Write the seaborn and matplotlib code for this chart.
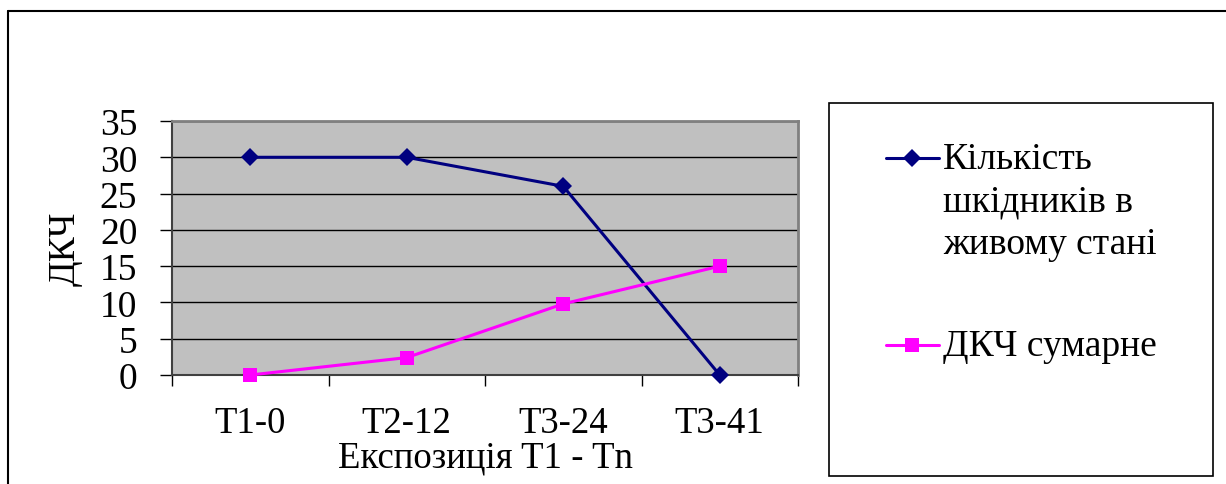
import matplotlib
matplotlib.use("Agg")
import matplotlib.pyplot as plt
import seaborn as sns
import pandas as pd
from matplotlib.patches import Rectangle
from matplotlib.lines import Line2D
from matplotlib.ticker import FixedLocator

categories = ["T1-0", "T2-12", "T3-24", "T3-41"]
alive_pests = [30, 30, 26, 0]
dkch_total = [0, 2.4, 9.8, 15]
series_names = ["Кількість\nшкідників в\nживому стані", "ДКЧ сумарне"]
y_ticks = [0, 5, 10, 15, 20, 25, 30, 35]
x_label = "Експозиція T1 - Tn"
y_label = "ДКЧ"

sns.set_theme(style="white")
plt.rcParams["font.family"] = ["Liberation Serif", "DejaVu Serif"]
plt.rcParams.update({"text.color": "black", "axes.labelcolor": "black",
                     "xtick.color": "black", "ytick.color": "black"})

W, H = 1226, 485
fig = plt.figure(figsize=(W / 100, H / 100), dpi=100)
ax = fig.add_axes([172 / W, 1 - 376 / H, (798 - 172) / W, (376 - 122) / H])
ax.set_facecolor("#C0C0C0")

df1 = pd.DataFrame({"x": categories, "y": alive_pests})
df2 = pd.DataFrame({"x": categories, "y": dkch_total})
sns.lineplot(data=df1, x="x", y="y", ax=ax, color="#000080", lw=2.2,
             marker="D", markersize=9, markeredgewidth=0, sort=False,
             label=series_names[0], legend=False, clip_on=False, zorder=5)
sns.lineplot(data=df2, x="x", y="y", ax=ax, color="#FF00FF", lw=2.2,
             marker="s", markersize=10, markeredgewidth=0, sort=False,
             label=series_names[1], legend=False, clip_on=False, zorder=5)

ax.set_xlim(-0.5, len(categories) - 0.5)
ax.set_ylim(0, 35)
ax.set_yticks(y_ticks)
ax.set_yticklabels([str(t) for t in y_ticks], fontsize=27)
ax.set_xticks(range(len(categories)))
ax.set_xticklabels(categories, fontsize=26.5)
ax.xaxis.set_minor_locator(FixedLocator([i - 0.5 for i in range(len(categories) + 1)]))
ax.tick_params(axis="x", which="major", length=0, pad=22)
ax.tick_params(axis="x", which="minor", length=8, width=1, color="black", direction="out", bottom=True)
ax.tick_params(axis="y", which="major", length=9, width=1, color="black", direction="out", left=True, pad=16)

ax.grid(axis="y", color="black", lw=1)
ax.grid(axis="x", visible=False)
ax.set_axisbelow(True)
for s in ["top", "right"]:
    ax.spines[s].set_color("#808080")
    ax.spines[s].set_linewidth(2)
for s in ["left", "bottom"]:
    ax.spines[s].set_color("#404040")
    ax.spines[s].set_linewidth(1.5)

ax.set_xlabel(x_label, fontsize=26.5, labelpad=0)
ax.set_ylabel(y_label, fontsize=27, labelpad=12)

# outer chart border (top and left)
fig.add_artist(Line2D([8 / W, 1.0], [1 - 12 / H, 1 - 12 / H], transform=fig.transFigure, color="black", lw=1.5))
fig.add_artist(Line2D([8 / W, 8 / W], [0, 1 - 12 / H], transform=fig.transFigure, color="black", lw=1.5))

# legend box
fig.add_artist(Rectangle((829 / W, 1 - 477 / H), (1213 - 829) / W, (477 - 104) / H,
                         transform=fig.transFigure, fill=False, edgecolor="black", lw=1.2))
handles, labels = ax.get_legend_handles_labels()
leg = fig.legend(handles, labels, loc="upper left", bbox_to_anchor=(886 / W, 1 - 143 / H),
                 frameon=False, fontsize=27, handlelength=1.4, handletextpad=0.13,
                 labelspacing=1.8, handleheight=1.2, borderpad=0, borderaxespad=0)
for t in leg.get_texts():
    t.set_linespacing(1.3)
for col in leg._legend_handle_box.get_children():
    for item in col.get_children():
        item.align = "top"

fig.savefig("out.png", dpi=100)
